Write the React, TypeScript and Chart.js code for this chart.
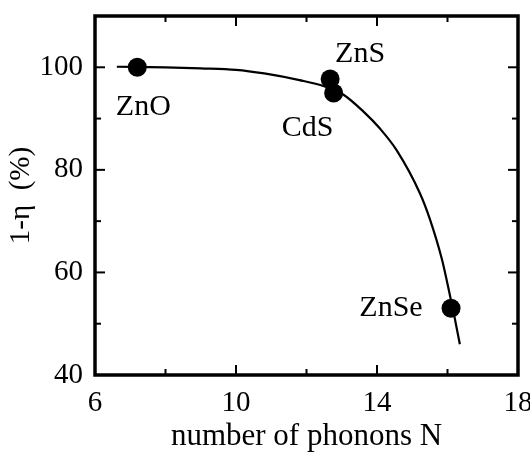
import React, { useEffect, useRef } from "react";
import { Chart, registerables } from "chart.js";

Chart.register(...registerables);

// Materials and their measured values
const materials = ["ZnO", "ZnS", "CdS", "ZnSe"];
const phonons = [7.2, 12.67, 12.77, 16.1];
const efficiency = [100, 97.7, 95, 53];

// Guide curve
const curveN = [6.62, 8, 9, 10, 10.8, 11.8, 12.5, 13.04, 13.61, 14.09, 14.56, 15.22, 15.5, 15.84, 16.07, 16.21, 16.35];
const curveEta = [100.1, 100, 99.8, 99.5, 98.8, 97.5, 96.3, 94.7, 91.4, 88.0, 83.8, 75.4, 70.4, 62.6, 55.5, 50.9, 46];

// Tick values
const xMajorTicks = [6, 10, 14, 18];
const xMinorTicks = [8, 12, 16];
const yMajorTicks = [40, 60, 80, 100];
const yMinorTicks = [50, 70, 90];

const FONT = "'Liberation Serif', 'Times New Roman', serif";

// label placement relative to each point (pixels) – style only
const labelOffsets: [number, number][] = [[6, 40], [30, -25], [-26, 35], [-60, 0]];

const framePlugin = {
  id: "frameTicks",
  afterDraw(chart: any) {
    const { ctx, chartArea: a, scales } = chart;
    const x = scales.x;
    const y = scales.y;
    ctx.save();
    ctx.strokeStyle = "#000";
    ctx.lineWidth = 2;
    ctx.lineCap = "butt";
    const major = 10;
    const minor = 6;
    const tick = (x1: number, y1: number, x2: number, y2: number) => {
      ctx.beginPath();
      ctx.moveTo(x1, y1);
      ctx.lineTo(x2, y2);
      ctx.stroke();
    };
    xMajorTicks.forEach((v) => {
      const px = x.getPixelForValue(v);
      tick(px, a.bottom, px, a.bottom - major);
      tick(px, a.top, px, a.top + major);
    });
    xMinorTicks.forEach((v) => {
      const px = x.getPixelForValue(v);
      tick(px, a.bottom, px, a.bottom - minor);
      tick(px, a.top, px, a.top + minor);
    });
    yMajorTicks.forEach((v) => {
      const py = y.getPixelForValue(v);
      tick(a.left, py, a.left + major, py);
      tick(a.right, py, a.right - major, py);
    });
    yMinorTicks.forEach((v) => {
      const py = y.getPixelForValue(v);
      tick(a.left, py, a.left + minor, py);
      tick(a.right, py, a.right - minor, py);
    });
    ctx.lineWidth = 3.5;
    ctx.strokeRect(a.left, a.top, a.right - a.left, a.bottom - a.top);
    ctx.restore();
  },
};

const labelPlugin = {
  id: "materialLabels",
  afterDatasetsDraw(chart: any) {
    const { ctx, scales } = chart;
    ctx.save();
    ctx.font = `30px ${FONT}`;
    ctx.fillStyle = "#000";
    ctx.textAlign = "center";
    ctx.textBaseline = "middle";
    materials.forEach((name, i) => {
      const px = scales.x.getPixelForValue(phonons[i]);
      const py = scales.y.getPixelForValue(efficiency[i]);
      const [dx, dy] = labelOffsets[i];
      ctx.fillText(name, px + dx, py + dy);
    });
    ctx.restore();
  },
};

export default function App() {
  const ref = useRef<HTMLCanvasElement | null>(null);

  useEffect(() => {
    if (!ref.current) return;
    const chart = new Chart(ref.current, {
      type: "scatter",
      data: {
        datasets: [
          {
            label: "curve",
            data: curveN.map((n, i) => ({ x: n, y: curveEta[i] })),
            showLine: true,
            borderColor: "#000",
            borderWidth: 2.2,
            pointRadius: 0,
            cubicInterpolationMode: "monotone",
            fill: false,
          },
          {
            label: "materials",
            data: phonons.map((n, i) => ({ x: n, y: efficiency[i] })),
            showLine: false,
            backgroundColor: "#000",
            borderColor: "#000",
            pointRadius: 9.5,
            pointBorderWidth: 0,
          },
        ],
      },
      options: {
        responsive: false,
        animation: false,
        layout: { padding: { top: 16, right: 12, left: 0, bottom: 0 } },
        plugins: {
          legend: { display: false },
          tooltip: { enabled: false },
        },
        scales: {
          x: {
            type: "linear",
            min: 6,
            max: 18,
            grid: { display: false, drawTicks: false },
            border: { display: false },
            afterBuildTicks: (s: any) => {
              s.ticks = xMajorTicks.map((v) => ({ value: v }));
            },
            afterFit: (s: any) => {
              s.height = 77;
              s.paddingLeft = 0;
              s.paddingRight = 0;
            },
            ticks: {
              color: "#000",
              font: { family: FONT, size: 29 },
              padding: 11,
              maxRotation: 0,
            },
            title: {
              display: true,
              text: "number of phonons N",
              color: "#000",
              font: { family: FONT, size: 31, lineHeight: 1 },
              padding: { top: 0, bottom: 0 },
            },
          },
          y: {
            type: "linear",
            min: 40,
            max: 110,
            grid: { display: false, drawTicks: false },
            border: { display: false },
            afterBuildTicks: (s: any) => {
              s.ticks = yMajorTicks.map((v) => ({ value: v }));
            },
            afterFit: (s: any) => {
              s.width = 95;
              s.paddingTop = 0;
              s.paddingBottom = 0;
            },
            ticks: {
              color: "#000",
              font: { family: FONT, size: 29 },
              padding: 12,
            },
            title: {
              display: true,
              text: "1-η  (%)",
              color: "#000",
              font: { family: FONT, size: 29, lineHeight: 1 },
              padding: { top: 7, bottom: 0 },
            },
          },
        },
      },
      plugins: [labelPlugin, framePlugin],
    } as any);
    return () => chart.destroy();
  }, []);

  return (
    <div style={{ position: "absolute", left: 0, top: 0, width: 530, height: 452, background: "#fff" }}>
      <canvas ref={ref} width={530} height={452} />
    </div>
  );
}
